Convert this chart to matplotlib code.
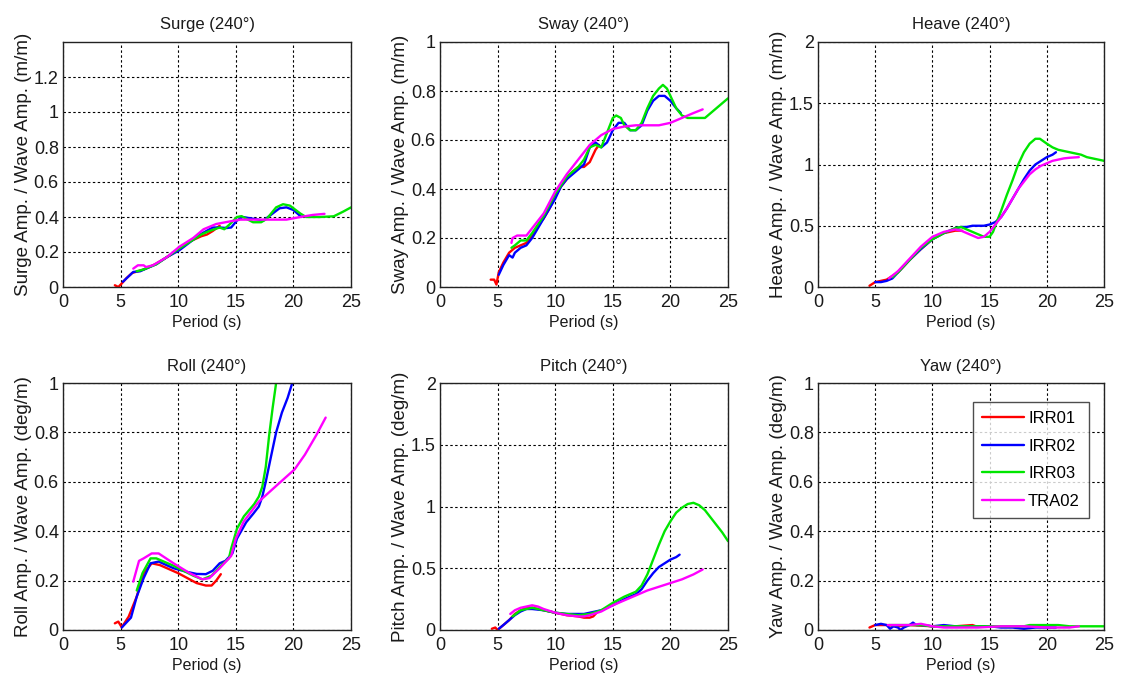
import matplotlib
matplotlib.use("Agg")
import matplotlib.pyplot as plt

plt.rcParams['font.family'] = ['Liberation Sans', 'DejaVu Sans']

# ---- series names and colours ----
SERIES = ["IRR01", "IRR02", "IRR03", "TRA02"]
COLORS = {"IRR01": "#ff0000", "IRR02": "#0000ff", "IRR03": "#00e600", "TRA02": "#ff00ff"}

# ---- RAO data: (period [s], amplitude ratio) ----
surge_irr01 = [(4.5, 0.01), (4.8, 0.0), (5.1, 0.02), (5.5, 0.05), (6.0, 0.08), (7.0, 0.10), (8.0, 0.13),
               (9.0, 0.17), (10.0, 0.21), (11.0, 0.26), (12.0, 0.29), (12.5, 0.30), (13.0, 0.32), (13.6, 0.35)]
surge_irr02 = [(5.2, 0.03), (6.1, 0.086), (6.7, 0.09), (7.2, 0.105), (8.1, 0.13), (9.0, 0.17), (10.1, 0.21),
               (11.3, 0.27), (11.9, 0.30), (13.0, 0.34), (13.6, 0.34), (14.2, 0.337), (14.6, 0.34), (15.1, 0.38),
               (15.6, 0.40), (16.5, 0.39), (17.4, 0.38), (18.0, 0.41), (18.8, 0.45), (19.4, 0.455), (20.0, 0.44),
               (20.7, 0.40)]
surge_irr03 = [(6.4, 0.09), (7.0, 0.10), (7.5, 0.114), (8.1, 0.13), (9.0, 0.17), (10.1, 0.22), (11.3, 0.27),
               (12.0, 0.30), (12.7, 0.32), (13.6, 0.34), (14.0, 0.33), (14.5, 0.36), (15.1, 0.40), (15.5, 0.405),
               (15.9, 0.39), (16.5, 0.37), (17.2, 0.37), (17.7, 0.39), (18.5, 0.455), (19.1, 0.473), (19.7, 0.465),
               (20.6, 0.42), (21.1, 0.40), (22.3, 0.40), (23.5, 0.404), (24.3, 0.43), (25.0, 0.455)]
surge_tra02 = [(6.1, 0.105), (6.5, 0.124), (7.0, 0.124), (7.2, 0.114), (7.8, 0.124), (9.0, 0.17), (10.1, 0.23),
               (11.3, 0.28), (12.2, 0.33), (13.3, 0.36), (14.5, 0.375), (15.4, 0.385), (16.5, 0.385),
               (17.7, 0.385), (19.4, 0.385), (20.6, 0.40), (21.7, 0.412), (22.7, 0.418)]

sway_irr01 = [(4.4, 0.03), (4.7, 0.03), (4.9, 0.01), (5.1, 0.06), (5.5, 0.10), (6.0, 0.14), (6.5, 0.16),
              (7.0, 0.17), (7.5, 0.18), (8.0, 0.21), (8.5, 0.25), (9.0, 0.28), (9.5, 0.32), (10.0, 0.37),
              (10.5, 0.41), (11.0, 0.44), (11.5, 0.47), (12.0, 0.49), (12.5, 0.49), (13.0, 0.51), (13.5, 0.56),
              (13.8, 0.58)]
sway_irr02 = [(5.1, 0.05), (5.5, 0.09), (6.0, 0.13), (6.3, 0.12), (6.5, 0.14), (7.0, 0.16), (7.5, 0.17),
              (8.0, 0.20), (8.5, 0.24), (9.0, 0.28), (9.5, 0.32), (10.0, 0.36), (10.5, 0.41), (11.0, 0.44),
              (11.5, 0.46), (12.0, 0.48), (12.5, 0.50), (13.0, 0.57), (13.5, 0.59), (14.0, 0.57), (14.5, 0.59),
              (15.0, 0.64), (15.5, 0.67), (16.0, 0.67), (16.5, 0.64), (17.0, 0.64), (17.5, 0.66), (18.0, 0.72),
              (18.5, 0.76), (19.0, 0.78), (19.5, 0.78), (20.0, 0.76), (20.5, 0.73), (20.9, 0.71)]
sway_irr03 = [(6.2, 0.16), (6.5, 0.17), (7.0, 0.19), (7.5, 0.19), (8.0, 0.22), (9.0, 0.29), (10.0, 0.38),
              (11.0, 0.45), (12.0, 0.49), (12.5, 0.52), (13.0, 0.57), (13.5, 0.58), (14.0, 0.57), (14.5, 0.63),
              (15.0, 0.69), (15.3, 0.70), (15.7, 0.69), (16.0, 0.66), (16.5, 0.64), (17.0, 0.64), (17.5, 0.67),
              (18.0, 0.73), (18.5, 0.78), (19.0, 0.81), (19.35, 0.825), (19.7, 0.81), (20.0, 0.78), (20.5, 0.73),
              (21.0, 0.70), (21.5, 0.69), (22.0, 0.69), (22.5, 0.69), (23.0, 0.69), (23.5, 0.71), (24.0, 0.73),
              (24.5, 0.75), (25.0, 0.77)]
sway_tra02 = [(6.2, 0.18), (6.3, 0.20), (6.7, 0.21), (7.0, 0.21), (7.5, 0.21), (8.0, 0.24), (9.0, 0.30),
              (10.0, 0.39), (11.0, 0.46), (12.0, 0.52), (13.0, 0.58), (14.0, 0.62), (15.0, 0.645), (16.0, 0.655),
              (17.0, 0.66), (18.0, 0.66), (19.0, 0.66), (20.0, 0.67), (21.0, 0.69), (22.0, 0.71), (22.8, 0.725)]

heave_irr01 = [(4.5, 0.01), (5.0, 0.04), (5.5, 0.05), (6.0, 0.06), (7.0, 0.12), (8.0, 0.22), (9.0, 0.31),
               (10.0, 0.39), (11.0, 0.44), (12.0, 0.46), (12.6, 0.46)]
heave_irr02 = [(5.0, 0.04), (5.5, 0.04), (6.0, 0.05), (6.5, 0.07), (7.0, 0.12), (8.0, 0.22), (9.0, 0.31),
               (10.0, 0.39), (11.0, 0.44), (12.0, 0.48), (12.5, 0.49), (13.0, 0.49), (13.5, 0.50), (14.0, 0.50),
               (14.5, 0.50), (15.0, 0.51), (15.5, 0.53), (16.0, 0.57), (16.5, 0.64), (17.0, 0.72), (17.5, 0.80),
               (18.0, 0.88), (18.5, 0.95), (19.0, 1.00), (19.5, 1.03), (20.0, 1.06), (20.5, 1.08), (20.8, 1.10)]
heave_irr03 = [(6.5, 0.08), (7.0, 0.12), (8.0, 0.22), (9.0, 0.32), (10.0, 0.39), (11.0, 0.44), (12.0, 0.48),
               (12.5, 0.49), (13.0, 0.47), (13.5, 0.45), (14.0, 0.43), (14.5, 0.41), (15.0, 0.41), (15.3, 0.45),
               (15.7, 0.55), (16.0, 0.62), (16.5, 0.75), (17.0, 0.87), (17.5, 1.00), (18.0, 1.10), (18.5, 1.17),
               (19.0, 1.21), (19.4, 1.21), (20.0, 1.17), (20.5, 1.14), (21.0, 1.12), (21.5, 1.11), (22.0, 1.10),
               (22.5, 1.09), (23.0, 1.08), (23.5, 1.06), (24.0, 1.05), (24.5, 1.04), (25.0, 1.03)]
heave_tra02 = [(6.2, 0.07), (7.0, 0.13), (8.0, 0.23), (9.0, 0.33), (10.0, 0.41), (11.0, 0.45), (12.0, 0.47),
               (12.5, 0.46), (13.0, 0.44), (13.5, 0.42), (14.0, 0.40), (14.5, 0.41), (15.0, 0.45), (15.5, 0.51),
               (16.0, 0.57), (16.5, 0.64), (17.0, 0.72), (17.5, 0.80), (18.0, 0.86), (18.5, 0.92), (19.0, 0.96),
               (19.5, 0.99), (20.0, 1.01), (20.5, 1.03), (21.0, 1.04), (21.5, 1.05), (22.0, 1.055), (22.8, 1.06)]

roll_irr01 = [(4.5, 0.027), (4.8, 0.034), (5.1, 0.011), (5.7, 0.054), (6.4, 0.135), (7.0, 0.23), (7.7, 0.27),
              (8.4, 0.263), (10.0, 0.23), (11.6, 0.19), (12.4, 0.18), (12.9, 0.18), (13.3, 0.20), (13.7, 0.226)]
roll_irr02 = [(5.1, 0.01), (5.9, 0.05), (6.4, 0.135), (7.0, 0.21), (7.6, 0.27), (8.3, 0.277), (9.6, 0.25),
              (10.7, 0.236), (11.6, 0.227), (12.4, 0.226), (13.0, 0.24), (13.6, 0.27), (14.1, 0.28), (14.7, 0.31),
              (15.1, 0.37), (15.9, 0.436), (16.5, 0.47), (17.0, 0.50), (17.3, 0.54), (17.6, 0.60), (18.0, 0.69),
              (18.5, 0.80), (19.0, 0.88), (19.5, 0.94), (19.9, 1.0)]
roll_irr03 = [(6.4, 0.16), (6.9, 0.23), (7.6, 0.29), (8.1, 0.29), (9.6, 0.26), (11.3, 0.22), (12.1, 0.205),
              (12.9, 0.22), (13.7, 0.26), (14.4, 0.29), (14.6, 0.33), (15.1, 0.41), (15.7, 0.46), (16.6, 0.51),
              (17.0, 0.54), (17.3, 0.58), (17.6, 0.66), (17.9, 0.79), (18.2, 0.90), (18.5, 1.0)]
roll_tra02 = [(6.1, 0.196), (6.6, 0.28), (7.0, 0.29), (7.7, 0.31), (8.3, 0.31), (9.6, 0.27), (11.0, 0.23),
              (12.1, 0.205), (12.7, 0.21), (13.6, 0.25), (14.6, 0.30), (15.0, 0.37), (15.7, 0.44), (17.0, 0.52),
              (18.9, 0.60), (20.1, 0.65), (21.0, 0.71), (22.0, 0.79), (22.8, 0.86)]

pitch_irr01 = [(4.5, 0.01), (4.8, 0.02), (5.0, 0.0), (5.5, 0.04), (6.0, 0.08), (6.5, 0.13), (7.0, 0.16),
               (7.5, 0.18), (8.0, 0.18), (8.5, 0.17), (9.0, 0.16), (10.0, 0.14), (11.0, 0.12), (12.0, 0.11),
               (12.5, 0.10), (13.0, 0.10), (13.3, 0.11), (13.6, 0.14)]
pitch_irr02 = [(5.1, 0.01), (5.5, 0.04), (6.0, 0.08), (6.5, 0.12), (7.0, 0.15), (7.5, 0.17), (8.0, 0.17),
               (9.0, 0.16), (10.0, 0.14), (11.0, 0.13), (12.0, 0.13), (12.5, 0.13), (13.0, 0.14), (14.0, 0.16),
               (15.0, 0.20), (16.0, 0.25), (17.0, 0.29), (17.5, 0.33), (18.0, 0.40), (18.5, 0.46), (19.0, 0.51),
               (19.5, 0.54), (20.0, 0.57), (20.5, 0.59), (20.8, 0.61)]
pitch_irr03 = [(6.3, 0.11), (7.0, 0.16), (7.5, 0.17), (8.0, 0.18), (9.0, 0.16), (10.0, 0.14), (11.0, 0.13),
               (12.0, 0.12), (13.0, 0.13), (14.0, 0.16), (15.0, 0.22), (16.0, 0.27), (17.0, 0.31), (17.5, 0.36),
               (18.0, 0.45), (18.5, 0.57), (19.0, 0.69), (19.5, 0.80), (20.0, 0.88), (20.5, 0.95), (21.0, 0.99),
               (21.5, 1.02), (22.0, 1.03), (22.5, 1.01), (23.0, 0.97), (23.5, 0.91), (24.0, 0.85), (24.5, 0.79),
               (25.0, 0.72)]
pitch_tra02 = [(6.1, 0.13), (6.5, 0.16), (7.0, 0.18), (7.5, 0.19), (8.0, 0.20), (8.5, 0.19), (9.0, 0.17),
               (10.0, 0.14), (11.0, 0.12), (12.0, 0.11), (12.5, 0.11), (13.0, 0.12), (14.0, 0.15), (15.0, 0.20),
               (16.0, 0.24), (17.0, 0.28), (18.0, 0.32), (19.0, 0.35), (20.0, 0.38), (21.0, 0.41), (22.0, 0.45),
               (22.8, 0.49)]

yaw_irr01 = [(4.5, 0.01), (5.0, 0.02), (5.5, 0.02), (6.0, 0.02), (7.0, 0.015), (8.0, 0.02), (10.0, 0.015),
             (12.0, 0.015), (13.5, 0.02), (13.8, 0.015)]
yaw_irr02 = [(5.0, 0.02), (5.5, 0.025), (6.0, 0.02), (6.3, 0.005), (6.6, 0.015), (7.0, 0.01), (7.2, 0.0),
             (7.5, 0.01), (8.0, 0.02), (8.3, 0.03), (8.6, 0.02), (9.0, 0.02), (10.0, 0.015), (11.0, 0.02),
             (12.0, 0.015), (14.0, 0.015), (15.0, 0.015), (16.0, 0.01), (17.0, 0.01), (18.0, 0.005),
             (19.0, 0.01), (20.0, 0.01), (20.8, 0.01)]
yaw_irr03 = [(6.2, 0.02), (7.0, 0.02), (8.0, 0.02), (9.0, 0.02), (10.0, 0.015), (12.0, 0.015), (14.0, 0.015),
             (16.0, 0.015), (18.0, 0.015), (18.5, 0.02), (20.0, 0.02), (21.0, 0.02), (22.0, 0.015),
             (23.0, 0.015), (25.0, 0.015)]
yaw_tra02 = [(6.1, 0.02), (7.0, 0.02), (8.0, 0.02), (9.0, 0.025), (9.5, 0.02), (10.0, 0.015), (11.0, 0.01),
             (12.0, 0.01), (14.0, 0.01), (16.0, 0.015), (18.0, 0.015), (20.0, 0.01), (22.0, 0.01), (22.8, 0.015)]

# ---- panel descriptions ----
TITLES = ["Surge (240°)", "Sway (240°)", "Heave (240°)", "Roll (240°)", "Pitch (240°)", "Yaw (240°)"]
YLABELS = ["Surge Amp. / Wave Amp. (m/m)", "Sway Amp. / Wave Amp. (m/m)", "Heave Amp. / Wave Amp. (m/m)",
           "Roll Amp. / Wave Amp. (deg/m)", "Pitch Amp. / Wave Amp. (deg/m)", "Yaw Amp. / Wave Amp. (deg/m)"]
YLIMS = [1.4, 1.0, 2.0, 1.0, 2.0, 1.0]
YTICKS = [[0, 0.2, 0.4, 0.6, 0.8, 1.0, 1.2],
          [0, 0.2, 0.4, 0.6, 0.8, 1.0],
          [0, 0.5, 1.0, 1.5, 2.0],
          [0, 0.2, 0.4, 0.6, 0.8, 1.0],
          [0, 0.5, 1.0, 1.5, 2.0],
          [0, 0.2, 0.4, 0.6, 0.8, 1.0]]
XTICKS = [0, 5, 10, 15, 20, 25]
XLABEL = "Period (s)"

PANEL_DATA = [
    [surge_irr01, surge_irr02, surge_irr03, surge_tra02],
    [sway_irr01, sway_irr02, sway_irr03, sway_tra02],
    [heave_irr01, heave_irr02, heave_irr03, heave_tra02],
    [roll_irr01, roll_irr02, roll_irr03, roll_tra02],
    [pitch_irr01, pitch_irr02, pitch_irr03, pitch_tra02],
    [yaw_irr01, yaw_irr02, yaw_irr03, yaw_tra02],
]

TEXT_COLOR = "#1a1a1a"

W, H = 1121, 686
fig = plt.figure(figsize=(W / 100, H / 100), dpi=100)
fig.patch.set_facecolor("white")

# axes boxes in pixels: (left, right) per column, (top, bottom) per row
col_px = [(63, 351), (440, 728), (818, 1104)]
row_px = [(42, 287), (383, 630)]

for i in range(6):
    r, c = divmod(i, 3)
    l, rr = col_px[c]
    t, b = row_px[r]
    ax = fig.add_axes([l / W, 1 - b / H, (rr - l) / W, (b - t) / H])
    for name, pts in zip(SERIES, PANEL_DATA[i]):
        xs = [p[0] for p in pts]
        ys = [p[1] for p in pts]
        ax.plot(xs, ys, color=COLORS[name], lw=1.7, label=name,
                solid_joinstyle="round", solid_capstyle="round")
    ax.set_xlim(0, 25)
    ax.set_ylim(0, YLIMS[i])
    ax.set_xticks(XTICKS)
    ax.set_xticklabels([str(x) for x in XTICKS])
    ax.set_yticks(YTICKS[i])
    ax.set_yticklabels([f"{v:g}" for v in YTICKS[i]])
    ax.grid(True, color="black", linestyle=(0, (2.2, 2.2)), lw=0.8)
    ax.set_axisbelow(True)
    ax.tick_params(direction="in", length=0, labelsize=13, colors=TEXT_COLOR)
    ax.tick_params(axis="y", pad=3)
    ax.tick_params(axis="x", pad=5)
    for sp in ax.spines.values():
        sp.set_color("#222222")
        sp.set_linewidth(1.0)
    ax.set_title(TITLES[i], fontsize=12, pad=9, color=TEXT_COLOR)
    ax.set_xlabel(XLABEL, fontsize=11.5, labelpad=3, color=TEXT_COLOR)
    ax.set_ylabel(YLABELS[i], fontsize=13.5, labelpad=1, color=TEXT_COLOR)
    if i == 5:
        leg = ax.legend(loc="upper right", bbox_to_anchor=(0.948, 0.923), borderaxespad=0,
                        fontsize=12, frameon=True, fancybox=False, edgecolor="#222222",
                        handlelength=2.5, handletextpad=0.25, labelspacing=0.75, borderpad=0.55)
        leg.get_frame().set_linewidth(1.0)
        for line in leg.get_lines():
            line.set_linewidth(1.7)

fig.savefig("out.png", dpi=100, facecolor="white")
